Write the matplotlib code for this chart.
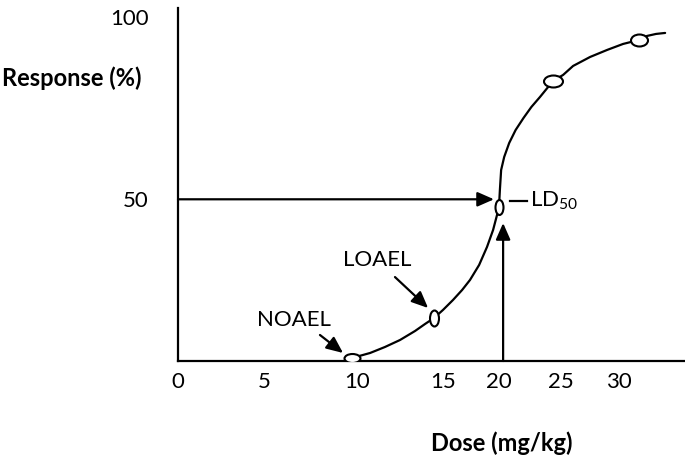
import matplotlib
matplotlib.use("Agg")
from matplotlib import pyplot as plt
from matplotlib.markers import MarkerStyle
from matplotlib.transforms import Affine2D

plt.rcParams['font.family'] = ['Lato', 'DejaVu Sans']
plt.rcParams['mathtext.fontset'] = 'custom'
plt.rcParams['mathtext.rm'] = 'Lato'

# ---------------- Data (schematic dose axis, response %) ----------------
dose_labels = ["0", "5", "10", "15", "20", "25", "30"]
dose_ticks = [0, 4.8, 10, 14.8, 17.9, 21.4, 24.6]
resp_labels = ["50", "100"]
resp_ticks = [47, 100]

curve_x = [9.72, 10.73, 11.56, 12.40, 13.24, 13.80, 14.30, 14.80, 15.36, 15.87,
           16.31, 16.82, 17.26, 17.60, 17.82, 17.93, 17.98, 18.05, 18.22, 18.50,
           18.86, 19.30, 19.74, 20.22, 20.95, 21.51, 22.07, 23.02, 23.97, 24.86,
           25.75, 26.20, 26.70, 27.21]
curve_y = [0.87, 2.33, 4.07, 6.10, 8.72, 10.76, 12.50, 14.83, 17.73, 20.64,
           23.55, 27.91, 33.14, 38.08, 42.44, 44.77, 49.71, 55.52, 59.30, 63.37,
           67.15, 70.64, 73.84, 76.74, 81.40, 83.14, 85.76, 88.37, 90.41, 92.15,
           93.31, 94.48, 95.06, 95.35]

point_x = [9.72, 14.30, 17.93, 20.95, 25.75]
point_y = [0.87, 12.50, 44.77, 81.40, 93.31]
point_shape = [(16, 9), (9, 16), (8, 15), (19, 12), (17, 12)]  # px width, height

ld50_x = 18.16
ld50_tip_y = 40.1
arrow_tip_x = 17.65

# ---------------- Figure ----------------
W, H = 685, 459
fig = plt.figure(figsize=(W / 100, H / 100), dpi=100)
ax = fig.add_axes([178 / W, 1 - 361 / H, (W - 178) / W, (361 - 8) / H])
ax.set_xlim(0, 28.32)
ax.set_ylim(0, 102.6)

for s in ["top", "right"]:
    ax.spines[s].set_visible(False)
for s in ["left", "bottom"]:
    ax.spines[s].set_linewidth(1.6)
    ax.spines[s].set_color("black")

ax.set_xticks(dose_ticks)
ax.set_xticklabels(dose_labels, fontsize=16)
ax.set_yticks(resp_ticks)
ax.set_yticklabels(resp_labels, fontsize=16)
ax.tick_params(axis="x", length=0, pad=8)
ax.tick_params(axis="y", length=0, pad=21)

# dose-response curve
ax.plot(curve_x, curve_y, color="black", lw=1.6, solid_capstyle="round",
        solid_joinstyle="round", zorder=3)

# open ellipse markers
for x, y, (w, h) in zip(point_x, point_y, point_shape):
    m = MarkerStyle("o", transform=Affine2D().scale(w / 13.9, h / 13.9))
    ax.plot(x, y, marker=m, ms=10, mfc="white", mec="black", mew=1.5, ls="none", zorder=4)

arrow = dict(arrowstyle="-|>,head_length=0.5,head_width=0.22", color="black",
             lw=1.6, shrinkA=0, shrinkB=0, mutation_scale=20)

# LD50 arrows
ax.annotate("", xy=(arrow_tip_x, resp_ticks[0]), xytext=(0, resp_ticks[0]), arrowprops=arrow, zorder=2)
ax.annotate("", xy=(ld50_x, ld50_tip_y), xytext=(ld50_x, 0), arrowprops=arrow, zorder=2)

# LD50 label
ax.plot([18.55, 19.5], [46.6, 46.6], color="black", lw=1.6)
ax.text(19.66, 46.6, r"LD$_{50}$", fontsize=16, ha="left", va="center")

# NOAEL / LOAEL labels
ax.text(6.48, 11.9, "NOAEL", fontsize=16, ha="center", va="center")
ax.annotate("", xy=(9.22, 2.33), xytext=(7.93, 7.56), arrowprops=arrow, zorder=5)
ax.text(11.12, 29.4, "LOAEL", fontsize=16, ha="center", va="center")
ax.annotate("", xy=(13.97, 15.4), xytext=(12.12, 24.4), arrowprops=arrow, zorder=5)

# axis titles
fig.text(72 / W, 1 - 78 / H, "Response (%)", fontsize=17, fontweight="bold", ha="center", va="center")
fig.text(502 / W, 1 - 443 / H, "Dose (mg/kg)", fontsize=17, fontweight="bold", ha="center", va="center")

fig.savefig("out.png", dpi=100)
